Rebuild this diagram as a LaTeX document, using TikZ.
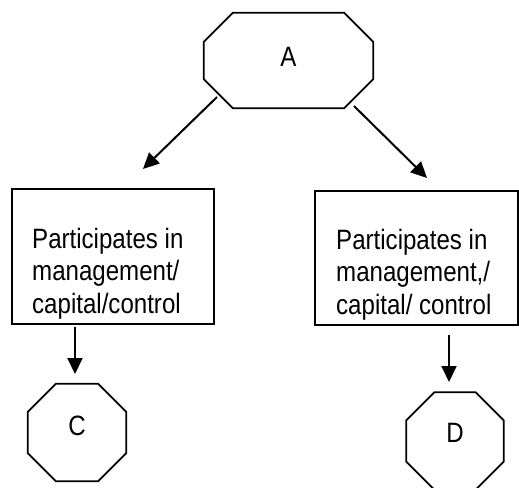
\documentclass[tikz,border=0pt]{standalone}
\usepackage{fontspec}
\setmainfont[FakeStretch=0.86]{Liberation Sans}
\usetikzlibrary{positioning,arrows.meta}

% octagon drawn round a named node, #2 = size of the cut corners
\newcommand\octagon[2]{%
  \draw[line width=1.8pt] ([xshift=#2]#1.north west) -- ([xshift=-#2]#1.north east)
    -- ([yshift=-#2]#1.north east) -- ([yshift=#2]#1.south east)
    -- ([xshift=-#2]#1.south east) -- ([xshift=#2]#1.south west)
    -- ([yshift=#2]#1.south west) -- ([yshift=-#2]#1.north west) -- cycle;}

\begin{document}
\begin{tikzpicture}[x=1pt,y=-1pt,
        every node/.style={font=\fontsize{28}{32.5}\selectfont},
        octo/.style={rectangle, inner sep=0pt},
        box/.style={draw, line width=2pt, minimum width=202pt, minimum height=135pt, inner sep=0pt},
        txt/.style={align=left, inner sep=0pt, anchor=base west},
        arr/.style={line width=2pt, -{Triangle[length=16pt,width=15pt]}}]
        \useasboundingbox (0,0) rectangle (519,487);
        \clip (0,0) rectangle (519,487);
        % octagons
        \node[octo, minimum width=169pt, minimum height=95pt, label={[yshift=3.5pt]center:A}] (A) at (288.5,60.5) {};
        \node[octo, minimum width=98pt, minimum height=97pt, label={[yshift=7pt]center:C}] (C) at (77,432.5) {};
        \node[octo, minimum width=97pt, minimum height=97pt, label={[yshift=8pt]center:D}] (D) at (455,441) {};
        \octagon{A}{29pt}
        \octagon{C}{28pt}
        \octagon{D}{28pt}
        % boxes
        \node[box] (left box) at (113,256.5) {};
        \node[box, minimum width=203pt, minimum height=134pt] (right box) at (416.5,258) {};
        \node[txt] (left text) at (32,313) {Participates in\\management/\\capital/control};
        \node[txt] (right text) at (336,314) {Participates in\\management,/\\capital/ control};
        % arrow ends
        \coordinate (A left) at (217,97);
        \coordinate (left top) at (143,169);
        \coordinate (A right) at (354,106);
        \coordinate (right top) at (427,178);
        \coordinate (left bottom) at (75,327);
        \coordinate (C top) at (75,374);
        \coordinate (right bottom) at (449,335);
        \coordinate (D top) at (449,382);
        \draw[arr] (A left) -- (left top);
        \draw[arr] (A right) -- (right top);
        \draw[arr] (left bottom) -- (C top);
        \draw[arr] (right bottom) -- (D top);
\end{tikzpicture}
\end{document}
